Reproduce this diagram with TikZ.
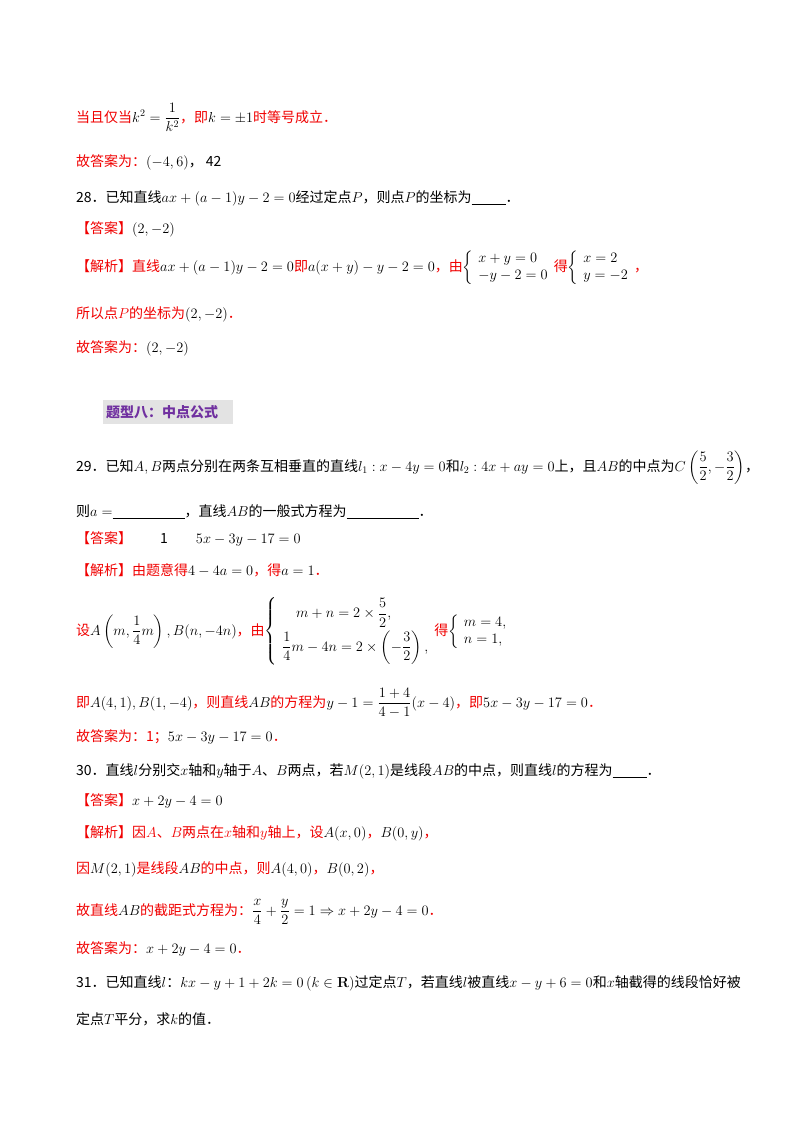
\documentclass[tikz,border=0pt]{standalone}
\usepackage{amsmath,amssymb}
\usepackage[no-math]{fontspec}
\setmainfont{Noto Sans CJK SC}
\definecolor{ans}{RGB}{240,0,0}
\definecolor{hd}{RGB}{112,48,160}
\newcommand{\R}[1]{\textcolor{ans}{#1}}
\newcommand{\blank}[1]{\underline{\hspace{#1}}}
\begin{document}
\begin{tikzpicture}[x=1pt,y=-1pt,
  txt/.style={anchor=base west,inner sep=0pt,font=\fontsize{14}{17}\selectfont}]
\useasboundingbox (0,0) rectangle (800,1132);
\node[txt] (a1) at (76,122) {\R{当且仅当}$k^2=\dfrac{1}{k^2}$\R{，即}$k=\pm1$\R{时等号成立．}};
\node[txt] (a2) at (76,166) {\R{故答案为：}$(-4,6)$，\ 42};
\node[txt] (a3) at (76,202) {28．已知直线$ax+(a-1)y-2=0$经过定点$P$，则点$P$的坐标为\blank{34pt}．};
\node[txt] (a4) at (76,233) {\R{【答案】}$(2,-2)$};
\node[txt] (a5) at (76,271) {\R{【解析】直线}$ax+(a-1)y-2=0$\R{即}$a(x+y)-y-2=0$\R{，由}$\left\{\begin{array}{l}x+y=0\\-y-2=0\end{array}\right.$\R{得}$\left\{\begin{array}{l}x=2\\y=-2\end{array}\right.$\R{，}};
\node[txt] (a6) at (76,318) {\R{所以点$P$的坐标为}$(2,-2)$\R{．}};
\node[txt] (a7) at (76,352) {\R{故答案为：}$(2,-2)$};
\fill[gray!22] (103,400) rectangle (233,424);
\node[anchor=west,inner sep=0pt,font=\fontsize{14}{17}\selectfont\bfseries,text=hd] (h) at (106,412) {题型八：中点公式};
\node[txt] (b1) at (76,471) {29．已知$A,B$两点分别在两条互相垂直的直线$l_1:x-4y=0$和$l_2:4x+ay=0$上，且$AB$的中点为$C\left(\dfrac52,-\dfrac32\right)$，};
\node[txt] (b2) at (76,516) {则$a=$\blank{72pt}，直线$AB$的一般式方程为\blank{72pt}．};
\node[txt] (b3) at (76,543) {\R{【答案】}\hspace{28pt}1\hspace{28pt}$5x-3y-17=0$};
\node[txt] (b4) at (76,575) {\R{【解析】由题意得}$4-4a=0$\R{，得}$a=1$\R{．}};
\node[txt] (b5) at (76,635) {\R{设}$A\left(m,\dfrac14m\right),B(n,-4n)$\R{，由}$\left\{\begin{array}{l}\quad m+n=2\times\dfrac52,\\[8pt]\dfrac14m-4n=2\times\left(-\dfrac32\right),\end{array}\right.$\R{得}$\left\{\begin{array}{l}m=4,\\n=1,\end{array}\right.$};
\node[txt] (b6) at (76,707) {\R{即}$A(4,1),B(1,-4)$\R{，则直线}$AB$\R{的方程为}$y-1=\dfrac{1+4}{4-1}(x-4)$\R{，即}$5x-3y-17=0$\R{．}};
\node[txt] (b7) at (76,741) {\R{故答案为：1；}$5x-3y-17=0$\R{．}};
\node[txt] (c1) at (76,775) {30．直线$l$分别交$x$轴和$y$轴于$A$、$B$两点，若$M(2,1)$是线段$AB$的中点，则直线$l$的方程为\blank{34pt}．};
\node[txt] (c2) at (76,805) {\R{【答案】}$x+2y-4=0$};
\node[txt] (c3) at (76,837) {\R{【解析】因$A$、$B$两点在$x$轴和$y$轴上，设}$A(x,0)$\R{，}$B(0,y)$\R{，}};
\node[txt] (c4) at (76,873) {\R{因}$M(2,1)$\R{是线段}$AB$\R{的中点，则}$A(4,0)$\R{，}$B(0,2)$\R{，}};
\node[txt] (c5) at (76,915) {\R{故直线}$AB$\R{的截距式方程为：}$\dfrac x4+\dfrac y2=1\Rightarrow x+2y-4=0$\R{．}};
\node[txt] (c6) at (76,953) {\R{故答案为：}$x+2y-4=0$\R{．}};
\node[txt] (d1) at (76,987) {31．已知直线$l$：$kx-y+1+2k=0\,(k\in\mathbf{R})$过定点$T$，若直线$l$被直线$x-y+6=0$和$x$轴截得的线段恰好被};
\node[txt] (d2) at (76,1024) {定点$T$平分，求$k$的值．};
\end{tikzpicture}
\end{document}
